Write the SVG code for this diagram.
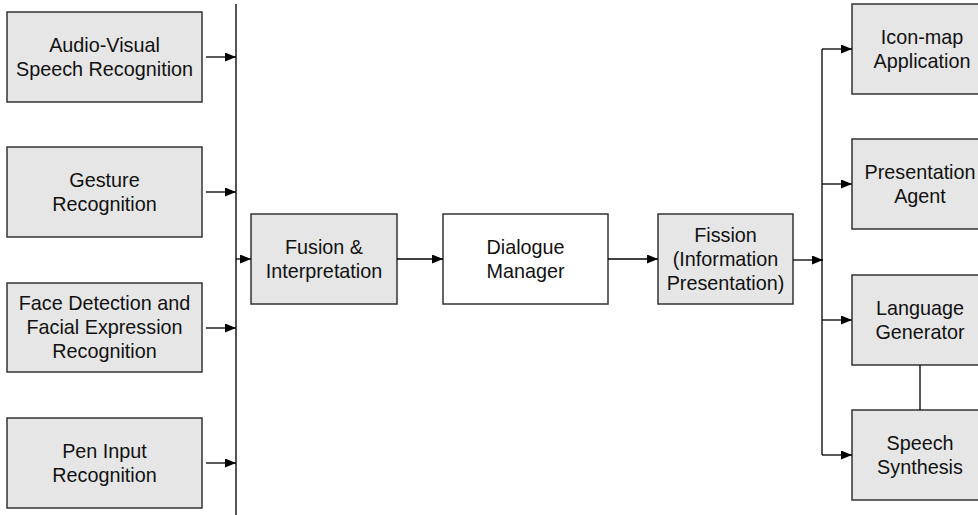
<svg xmlns="http://www.w3.org/2000/svg" width="978" height="515" viewBox="0 0 978 515">
  <defs>
    <marker id="arrow" viewBox="0 0 11 9" refX="11" refY="4.5" markerWidth="11" markerHeight="9" markerUnits="userSpaceOnUse" orient="auto">
      <path d="M0,0 L11,4.5 L0,9 Z" fill="#000"/>
    </marker>
    <style>
      .box { fill: #e6e6e6; stroke: #333; stroke-width: 1.5; }
      .plain { fill: #fff; stroke: #333; stroke-width: 1.5; }
      .lbl { font-family: "Liberation Sans", Arial, sans-serif; font-size: 19.8px; fill: #111; text-anchor: middle; }
      .bus { fill: none; stroke: #555; stroke-width: 2; }
      .link { fill: none; stroke: #000; stroke-width: 1.3; marker-end: url(#arrow); }
      .plainlink { fill: none; stroke: #000; stroke-width: 1.3; }
    </style>
  </defs>

  <!-- input recognisers -->
  <g id="av-speech">
    <rect class="box" x="7" y="12" width="195" height="90"/>
    <text class="lbl" x="104.5" y="52">Audio-Visual</text>
    <text class="lbl" x="104.5" y="76">Speech Recognition</text>
  </g>
  <g id="gesture">
    <rect class="box" x="7" y="147" width="195" height="90"/>
    <text class="lbl" x="104.5" y="187">Gesture</text>
    <text class="lbl" x="104.5" y="211">Recognition</text>
  </g>
  <g id="face">
    <rect class="box" x="7" y="283" width="195" height="89"/>
    <text class="lbl" x="104.5" y="310">Face Detection and</text>
    <text class="lbl" x="104.5" y="334">Facial Expression</text>
    <text class="lbl" x="104.5" y="358">Recognition</text>
  </g>
  <g id="pen">
    <rect class="box" x="7" y="418" width="195" height="90"/>
    <text class="lbl" x="104.5" y="458">Pen Input</text>
    <text class="lbl" x="104.5" y="482">Recognition</text>
  </g>

  <!-- processing chain -->
  <g id="fusion">
    <rect class="box" x="251" y="214" width="146" height="90"/>
    <text class="lbl" x="324" y="254">Fusion &amp;</text>
    <text class="lbl" x="324" y="278">Interpretation</text>
  </g>
  <g id="dialogue">
    <rect class="plain" x="443" y="214" width="165" height="90"/>
    <text class="lbl" x="525.5" y="254">Dialogue</text>
    <text class="lbl" x="525.5" y="278">Manager</text>
  </g>
  <g id="fission">
    <rect class="box" x="658" y="214" width="135" height="90"/>
    <text class="lbl" x="725.5" y="242">Fission</text>
    <text class="lbl" x="725.5" y="266">(Information</text>
    <text class="lbl" x="725.5" y="290">Presentation)</text>
  </g>

  <!-- output components -->
  <g id="iconmap">
    <rect class="box" x="852" y="4" width="140" height="90"/>
    <text class="lbl" x="922" y="44">Icon-map</text>
    <text class="lbl" x="922" y="68">Application</text>
  </g>
  <g id="agent">
    <rect class="box" x="852" y="139" width="140" height="90"/>
    <text class="lbl" x="920" y="179">Presentation</text>
    <text class="lbl" x="920" y="203">Agent</text>
  </g>
  <g id="langgen">
    <rect class="box" x="852" y="275" width="140" height="90"/>
    <text class="lbl" x="920" y="315">Language</text>
    <text class="lbl" x="920" y="339">Generator</text>
  </g>
  <g id="synth">
    <rect class="box" x="852" y="410" width="140" height="90"/>
    <text class="lbl" x="920" y="450">Speech</text>
    <text class="lbl" x="920" y="474">Synthesis</text>
  </g>

  <!-- connectors -->
  <g id="connectors">
    <line class="bus" x1="236" y1="4" x2="236" y2="515"/>
    <line class="link" x1="206" y1="57" x2="236" y2="57"/>
    <line class="link" x1="206" y1="192" x2="236" y2="192"/>
    <line class="link" x1="206" y1="328" x2="236" y2="328"/>
    <line class="link" x1="206" y1="463" x2="236" y2="463"/>
    <line class="link" x1="236" y1="259" x2="251" y2="259"/>
    <line class="link" x1="397" y1="259" x2="443" y2="259"/>
    <line class="link" x1="608" y1="259" x2="658" y2="259"/>
    <line class="link" x1="793" y1="260" x2="823" y2="260"/>
    <line class="plainlink" x1="822" y1="49" x2="822" y2="455"/>
    <line class="link" x1="822" y1="49" x2="852" y2="49"/>
    <line class="link" x1="822" y1="184" x2="852" y2="184"/>
    <line class="link" x1="822" y1="320" x2="852" y2="320"/>
    <line class="link" x1="822" y1="455" x2="852" y2="455"/>
    <line class="plainlink" x1="920" y1="365" x2="920" y2="410"/>
  </g>
</svg>
